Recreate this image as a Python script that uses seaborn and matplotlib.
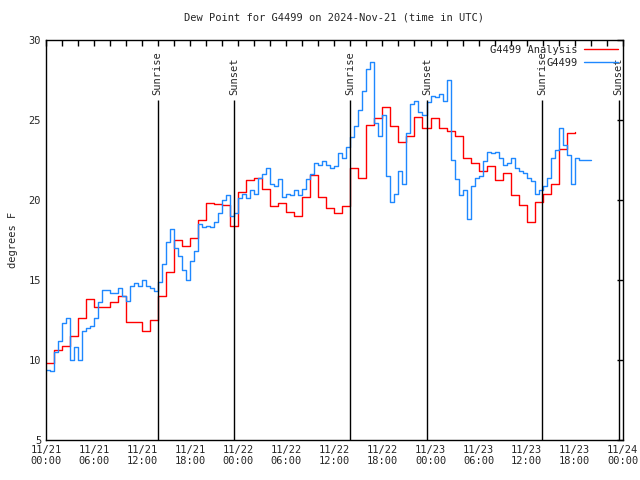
import pandas as pd
import numpy as np
import matplotlib
matplotlib.use('Agg')
import matplotlib.pyplot as plt
import matplotlib.dates as mdates
import seaborn as sns

# данные: анализ (почасовые шаги) и станция (каждые 30 минут)
analysis_vals = [9.8, 10.6, 10.9, 11.5, 12.6, 13.8, 13.3, 13.3, 13.6, 14.0,
                 12.4, 12.4, 11.8, 12.5, 14.0, 15.5, 17.5, 17.1, 17.6, 18.75,
                 19.8, 19.75, 19.7, 18.4, 20.5, 21.25, 21.4, 20.7, 19.6, 19.8,
                 19.25, 19.0, 20.2, 21.55, 20.2, 19.5, 19.2, 19.6, 22.0, 21.4,
                 24.7, 25.1, 25.8, 24.6, 23.6, 24.0, 25.2, 24.5, 25.1, 24.5,
                 24.3, 24.0, 22.6, 22.3, 21.8, 22.1, 21.25, 21.7, 20.3, 19.7,
                 18.6, 19.9, 20.4, 21.0, 23.2, 24.2, 24.25]

station_vals = [9.4, 9.3, 10.5, 11.2, 12.3, 12.6, 10.0, 10.8, 10.0, 11.8,
                12.0, 12.1, 12.6, 13.6, 14.4, 14.4, 14.2, 14.2, 14.5, 14.0,
                13.7, 14.6, 14.8, 14.6, 15.0, 14.6, 14.5, 14.3, 14.9, 16.0,
                17.4, 18.2, 17.0, 16.5, 15.6, 15.0, 16.2, 16.8, 18.5, 18.3,
                18.4, 18.3, 18.6, 19.2, 20.0, 20.3, 19.0, 19.2, 20.1, 20.4,
                20.1, 20.6, 20.4, 21.4, 21.6, 22.0, 21.0, 20.9, 21.3, 20.2,
                20.4, 20.3, 20.6, 20.3, 20.7, 21.3, 21.6, 22.3, 22.2, 22.4,
                22.2, 22.0, 22.1, 22.9, 22.6, 23.3, 23.9, 24.6, 25.6, 26.8,
                28.2, 28.6, 24.8, 24.0, 25.3, 21.5, 19.9, 20.4, 21.8, 21.0,
                24.2, 26.0, 26.2, 25.5, 25.3, 26.1, 26.5, 26.4, 26.6, 26.2,
                27.5, 22.5, 21.3, 20.3, 20.6, 18.8, 20.9, 21.4, 21.5, 22.4,
                23.0, 22.9, 23.0, 22.6, 22.2, 22.3, 22.6, 22.0, 21.8, 21.7,
                21.4, 21.2, 20.4, 20.6, 20.9, 21.4, 22.6, 23.1, 24.5, 23.4,
                22.8, 21.0, 22.6, 22.5, 22.5, 22.5, 22.5]

sunrise = ['2024-11-21 13:55', '2024-11-22 13:55', '2024-11-23 13:55']
sunset = ['2024-11-21 23:30', '2024-11-22 23:35', '2024-11-23 23:30']

analysis = pd.DataFrame({
    't': pd.date_range('2024-11-21 00:00', periods=len(analysis_vals), freq='1h'),
    'dewp': analysis_vals})
station = pd.DataFrame({
    't': pd.date_range('2024-11-21 00:00', periods=len(station_vals), freq='30min'),
    'dewp': station_vals})

sns.set_style('white')
plt.rcParams['font.family'] = ['DejaVu Sans Mono']
plt.rcParams['font.size'] = 7.5

fig = plt.figure(figsize=(6.4, 4.8), dpi=100)
ax = fig.add_axes([0.072, 0.0833, 0.901, 0.8337])

sns.lineplot(data=analysis, x='t', y='dewp', color='#ff0000', linewidth=1,
             drawstyle='steps-post', label='G4499 Analysis', ax=ax)
sns.lineplot(data=station, x='t', y='dewp', color='#1e88ff', linewidth=1,
             drawstyle='steps-post', label='G4499', ax=ax)

# линии восхода и заката
for times, name in [(sunrise, 'Sunrise'), (sunset, 'Sunset')]:
    for t in pd.to_datetime(times):
        ax.vlines(t, 5, 26.25, color='black', linewidth=1)
        ax.text(t, 26.55, name, rotation=90, ha='center', va='bottom', fontsize=7.5)

ax.set_xlim(pd.Timestamp('2024-11-21 00:00'), pd.Timestamp('2024-11-24 00:00'))
ax.set_ylim(5, 30)
ax.set_yticks([5, 10, 15, 20, 25, 30])
ax.xaxis.set_major_locator(mdates.HourLocator(byhour=[0, 6, 12, 18]))
ax.xaxis.set_minor_locator(mdates.HourLocator(byhour=range(0, 24, 2)))
ax.xaxis.set_major_formatter(mdates.DateFormatter('%m/%d\n%H:%M'))
ax.tick_params(which='both', direction='in', top=True, right=True,
               length=4, width=1, color='black', labelsize=7.5)
for s in ax.spines.values():
    s.set_color('black')
    s.set_linewidth(1)

ax.set_xlabel('')
ax.set_ylabel('degrees F', fontsize=7.5, labelpad=8)
ax.set_title('Dew Point for G4499 on 2024-Nov-21 (time in UTC)', fontsize=7.5, pad=14)

ax.legend(loc='upper right', frameon=False, markerfirst=False, fontsize=7.5,
          handlelength=3.2, borderaxespad=0.1, labelspacing=0.25, handletextpad=0.6)

plt.savefig('out.png', dpi=100)
plt.close()
